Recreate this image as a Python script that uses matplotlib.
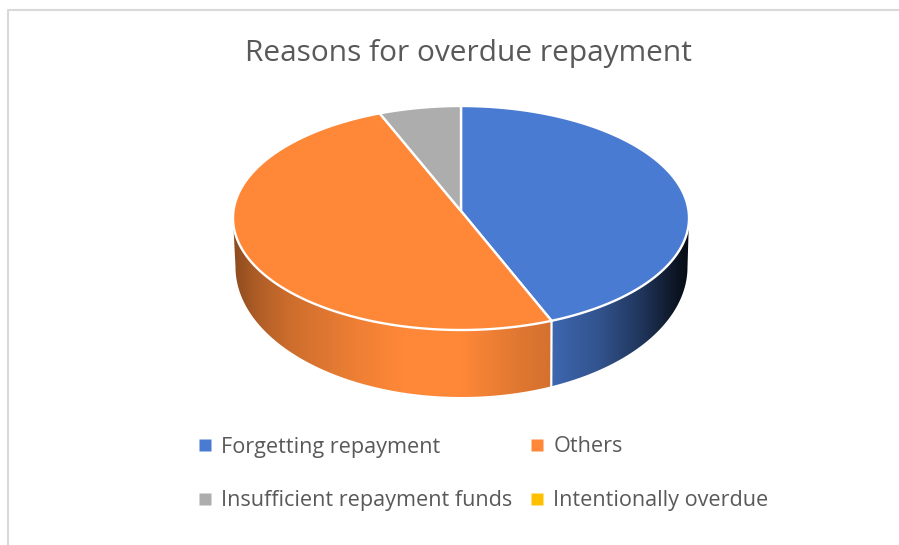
import numpy as np
import matplotlib
matplotlib.use("Agg")
import matplotlib.pyplot as plt
from matplotlib.lines import Line2D
from matplotlib.patches import Polygon

plt.rcParams["font.family"] = ["Open Sans", "DejaVu Sans"]

title = "Reasons for overdue repayment"
categories = ["Forgetting repayment", "Others",
              "Insufficient repayment funds", "Intentionally overdue"]
shares = [43.5, 50.7, 5.8, 0.0]
colors = ["#4a7bd2", "#ff8838", "#adadad", "#ffc000"]

# Pie geometry in canvas pixels: the top face, the point where slices meet
# (pulled back by the tilt), and the lower outline of the wall
CX, CY, RX, RY = 461, 218, 228, 112
APEX_Y = 211
LOW_CX, LOW_CY, LOW_RX, LOW_RY = 461.5, 267, 226, 130

# Brightness of the side wall across the pie's width (-1 left, +1 right)
shade_u = [-1.0, -0.9, -0.76, -0.47, -0.25, 0.0, 0.18, 0.33, 0.41, 0.61, 0.8, 0.95, 1.0]
shade_k = [0.55, 0.68, 0.80, 0.93, 1.0, 1.0, 0.91, 0.85, 0.83, 0.67, 0.42, 0.16, 0.10]


def rim(t):
    return CX + RX * np.sin(t), CY - RY * np.cos(t)


def low_rim(t):
    return LOW_CX + LOW_RX * np.sin(t), LOW_CY - LOW_RY * np.cos(t)


fig = plt.figure(figsize=(8.99, 5.45), dpi=100)
ax = fig.add_axes([0, 0, 1, 1])

# Frame of the chart area: only the top and left edges are in view
ax.plot([7.5, 7.5, 899], [545, 9.5, 9.5], color="#d9d9d9", lw=1.5, zorder=0)

edges = np.deg2rad(np.cumsum([0.0] + shares) * 3.6)

# Side wall: a horizontal gradient clipped to each slice's outline
for start, end, color in zip(edges[:-1], edges[1:], colors):
    lo, hi = max(start, np.pi / 2), min(end, 3 * np.pi / 2)
    if hi <= lo:
        continue
    ts = np.linspace(lo, hi, 240)
    ux, uy = rim(ts)
    bx, by = low_rim(ts)
    outline = np.column_stack([np.r_[ux, bx[::-1]], np.r_[uy, by[::-1]]])
    clip = Polygon(outline, closed=True, transform=ax.transData,
                   facecolor="none", edgecolor="none")
    ax.add_patch(clip)
    x0, x1 = outline[:, 0].min(), outline[:, 0].max()
    y0, y1 = outline[:, 1].min(), outline[:, 1].max()
    grid = np.linspace(x0, x1, 400)
    k = np.interp((grid - CX) / RX, shade_u, shade_k)
    ramp = np.clip(np.outer(k, matplotlib.colors.to_rgb(color)), 0, 1)[np.newaxis, :, :]
    image = ax.imshow(ramp, extent=[x0, x1, y1, y0], aspect="auto",
                      interpolation="bilinear", zorder=2)
    image.set_clip_path(clip)

# White seam where two slices meet on the side wall
for edge in edges[1:-1]:
    if np.pi / 2 < edge < 3 * np.pi / 2:
        x, y = rim(edge)
        xb, yb = low_rim(edge)
        ax.plot([x, xb], [y, yb], color="white", lw=1.6, zorder=3)

# Top face of each slice
for start, end, color in zip(edges[:-1], edges[1:], colors):
    if end <= start:
        continue
    ts = np.linspace(start, end, 240)
    xs, ys = rim(ts)
    pts = np.column_stack([np.r_[CX, xs], np.r_[APEX_Y, ys]])
    ax.add_patch(Polygon(pts, closed=True, facecolor=color, edgecolor="white",
                         linewidth=1.7, joinstyle="round", zorder=4))

ax.set_xlim(0, 899)
ax.set_ylim(545, 0)
ax.axis("off")

ax.text(468.5, 54, title, ha="center", va="center", fontsize=21.5, color="#595959")

# Legend fills by column, so the row order is swapped into place here
order = [0, 2, 1, 3]
handles = [Line2D([], [], linestyle="none", marker="s", markersize=8.2,
                  markerfacecolor=colors[i], markeredgecolor="none") for i in order]
legend = ax.legend(handles, [categories[i] for i in order], ncol=2, frameon=False,
                   fontsize=15.55, labelcolor="#595959", loc="upper left",
                   bbox_to_anchor=(194, 436.5), bbox_transform=ax.transData,
                   handlelength=1.0, handletextpad=0.27, columnspacing=0.62,
                   labelspacing=1.51, borderpad=0, borderaxespad=0)

fig.savefig("out.png", dpi=100, facecolor="white")
